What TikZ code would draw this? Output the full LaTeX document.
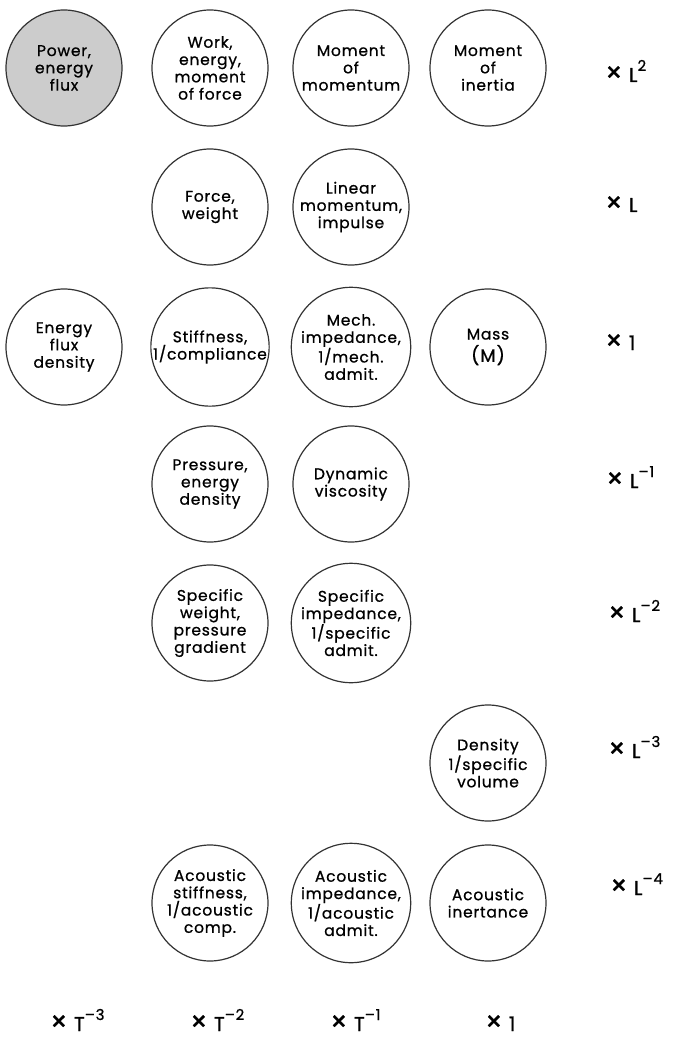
\documentclass[tikz,border=0pt]{standalone}
\usepackage{fontspec}
\setmainfont[LetterSpace=5, FakeBold=0.8]{Poppins}
\usetikzlibrary{positioning}
\newcommand{\powsup}[1]{\raisebox{0.55em}{\fontsize{15}{15}\selectfont#1}}
\newcommand{\timessign}{\scalebox{1.35}{×}}
\tikzset{
  qtycircle/.style={draw=black!80, line width=1.2pt, circle, minimum size=116pt, inner sep=0pt, align=center, font=\fontsize{15.5}{17.3}\selectfont},
  shadedcircle/.style={qtycircle, fill=black!20},
  dimlabel/.style={anchor=base west, inner sep=0pt, font=\fontsize{20}{22}\selectfont}
}

\begin{document}
\begin{tikzpicture}[x=1pt, y=-1pt]
  \useasboundingbox (0,0) rectangle (676,1040);
  % x L^2
  \node[shadedcircle] (power) at (64,68) {Power,\\energy\\flux};
  \node[qtycircle] (work) at (210,68) {Work,\\energy,\\moment\\of force};
  \node[qtycircle] (angmom) at (351,68) {Moment\\of\\momentum};
  \node[qtycircle] (inertia) at (488,68) {Moment\\of\\inertia};
  % x L
  \node[qtycircle] (force) at (210,207) {Force,\\weight};
  \node[qtycircle] (linmom) at (351,207) {Linear\\momentum,\\impulse};
  % x 1
  \node[qtycircle] (fluxdens) at (64,347) {Energy\\flux\\density};
  \node[qtycircle] (stiff) at (210,347) {Stiffness,\\1/compliance};
  \node[qtycircle] (mechimp) at (351,347) {Mech.\\impedance,\\1/mech.\\admit.};
  \node[qtycircle] (mass) at (488,347) {Mass\\[5pt]{\fontsize{18}{21}\selectfont(M)}};
  % x L^-1
  \node[qtycircle] (pressure) at (210,484) {Pressure,\\energy\\density};
  \node[qtycircle] (viscosity) at (351,484) {Dynamic\\viscosity};
  % x L^-2
  \node[qtycircle] (specweight) at (210,623) {Specific\\weight,\\pressure\\gradient};
  \node[qtycircle] (specimp) at (351,623) {Specific\\impedance,\\1/specific\\admit.};
  % x L^-3
  \node[qtycircle] (density) at (488,763) {Density\\1/specific\\volume};
  % x L^-4
  \node[qtycircle] (acstiff) at (210,903) {Acoustic\\stiffness,\\1/acoustic\\comp.};
  \node[qtycircle] (acimp) at (351,903) {Acoustic\\impedance,\\1/acoustic\\admit.};
  \node[qtycircle] (acinert) at (488,903) {Acoustic\\inertance};

  % length factors
  \node[dimlabel] (lpow2) at (605,82) {\timessign{} L\powsup{2}};
  \node[dimlabel] (lpow1) at (605,212) {\timessign{} L};
  \node[dimlabel] (lpow0) at (605,350) {\timessign{} 1};
  \node[dimlabel] (lneg1) at (606,488) {\timessign{} L\powsup{–1}};
  \node[dimlabel] (lneg2) at (608,622) {\timessign{} L\powsup{–2}};
  \node[dimlabel] (lneg3) at (608,758) {\timessign{} L\powsup{–3}};
  \node[dimlabel] (lneg4) at (610,895) {\timessign{} L\powsup{–4}};

  % time factors
  \node[dimlabel] (tneg3) at (50,1031) {\timessign{} T\powsup{–3}};
  \node[dimlabel] (tneg2) at (190,1031) {\timessign{} T\powsup{–2}};
  \node[dimlabel] (tneg1) at (330,1031) {\timessign{} T\powsup{–1}};
  \node[dimlabel] (tpow0) at (485,1031) {\timessign{} 1};
\end{tikzpicture}
\end{document}
